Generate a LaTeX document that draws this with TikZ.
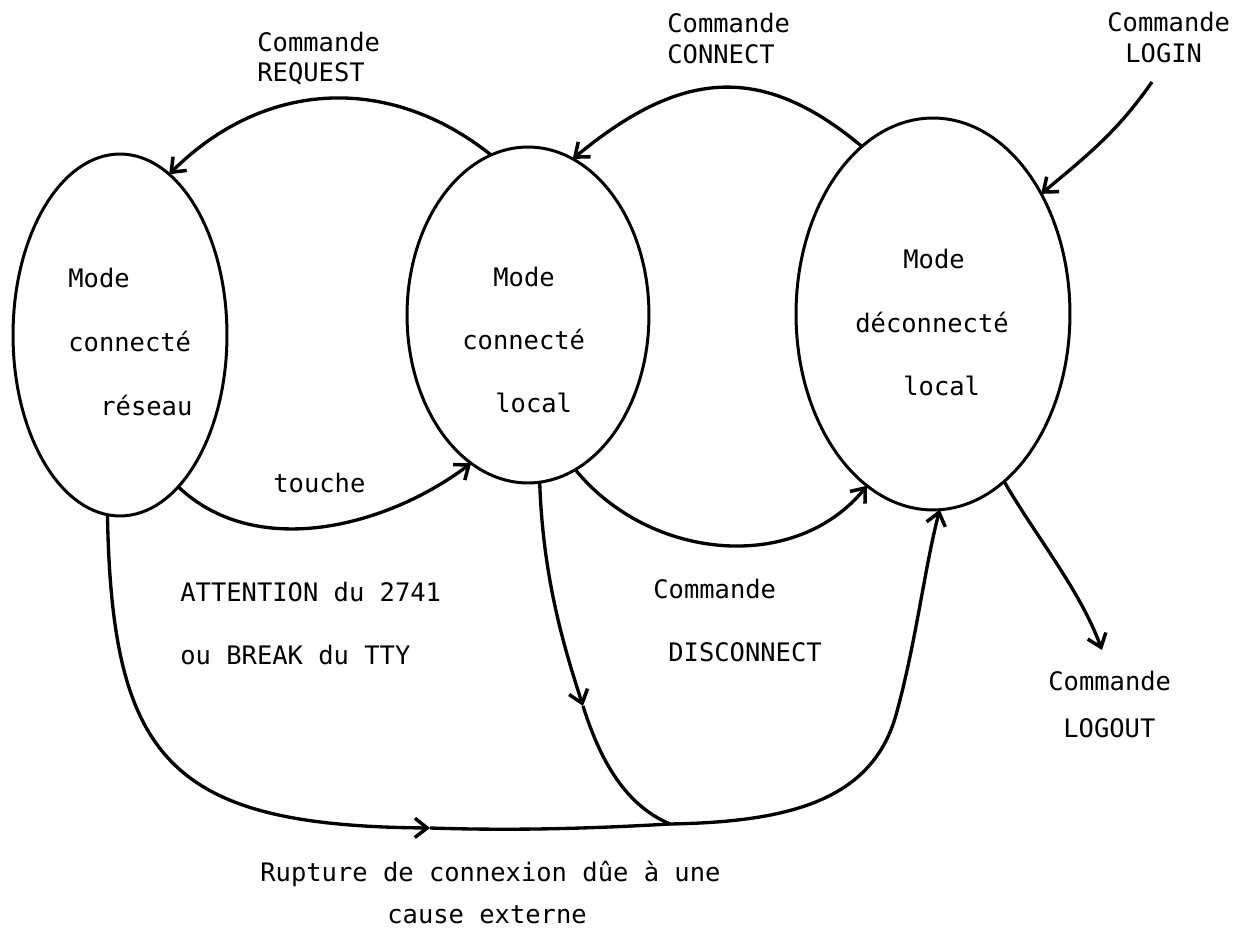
\documentclass[tikz,border=0pt]{standalone}
\usepackage{fontspec}
\setmonofont{DejaVu Sans Mono}
\usetikzlibrary{shapes.geometric,arrows.meta}
\begin{document}
\begin{tikzpicture}[x=0.02cm,y=-0.02cm,
  state/.style={draw, ellipse, line width=1.7pt, inner sep=0pt, outer sep=0pt},
  lbl/.style={anchor=base west, inner sep=0pt, font=\ttfamily\fontsize{14.5pt}{17pt}\selectfont},
  conn/.style={line width=1.9pt, -{Straight Barb[length=7pt,width=11pt,line width=2pt]}},
  plain/.style={line width=1.9pt},
]
\useasboundingbox (0,0) rectangle (1249,932);

% states
\node[state, minimum width=4.28cm, minimum height=7.24cm] (reseau) at (120,335) {};
\node[state, minimum width=4.84cm, minimum height=6.72cm] (local) at (528,315) {};
\node[state, minimum width=5.48cm, minimum height=7.84cm] (deco) at (933,314) {};

% texts inside states
\node[lbl] (r1) at (68,288) {Mode};
\node[lbl] (r2) at (68,352) {connecté};
\node[lbl] (r3) at (100,416) {réseau};
\node[lbl] (l1) at (493,287) {Mode};
\node[lbl] (l2) at (462,350) {connecté};
\node[lbl] (l3) at (495,413) {local};
\node[lbl] (d1) at (903,269) {Mode};
\node[lbl] (d2) at (855,333) {déconnecté};
\node[lbl] (d3) at (903,396) {local};

% other labels
\node[lbl] (q1) at (257,52) {Commande};
\node[lbl] (q2) at (257,82) {REQUEST};
\node[lbl] (c1) at (667,33) {Commande};
\node[lbl] (c2) at (667,64) {CONNECT};
\node[lbl] (g1) at (1107,32) {Commande};
\node[lbl] (g2) at (1125,63) {LOGIN};
\node[lbl] (t1) at (273,493) {touche};
\node[lbl] (a1) at (180,602) {ATTENTION du 2741};
\node[lbl] (a2) at (180,665) {ou BREAK du TTY};
\node[lbl] (s1) at (653,599) {Commande};
\node[lbl] (s2) at (668,662) {DISCONNECT};
\node[lbl] (o1) at (1048,691) {Commande};
\node[lbl] (o2) at (1063,738) {LOGOUT};
\node[lbl] (u1) at (260,882) {Rupture de connexion dûe à une};
\node[lbl] (u2) at (387,924) {cause externe};

% free ends and junctions
\coordinate (loginstart) at (1152,82);
\coordinate (logoutend) at (1102,650);
\coordinate (rmid) at (430,828);
\coordinate (dmid) at (583,706);
\coordinate (J) at (670,824);

% connectors
\draw[conn] (local.103) .. controls (391,75) and (266,78) .. (reseau.73);
\draw[conn] (deco.113) .. controls (760,61) and (679,71) .. (local.74);
\draw[conn] (loginstart) .. controls (1119,129) and (1093,151) .. (deco.48);
\draw[conn] (reseau.-69) .. controls (255,560) and (385,528) .. (local.-111);
\draw[conn] (local.-73) .. controls (650,561) and (795,574) .. (deco.-111);
\draw[conn] (deco.-67) .. controls (1035,535) and (1080,590) .. (logoutend);

\draw[conn] (reseau.-94) .. controls (112,760) and (170,826) .. (rmid);
\draw[plain] (rmid) .. controls (520,831) and (600,828) .. (J);
\draw[conn] (local.-86) .. controls (543,580) and (565,650) .. (dmid);
\draw[plain] (dmid) .. controls (600,760) and (625,805) .. (J);
\draw[conn] (J) .. controls (790,822) and (872,800) .. (896,715)
  .. controls (916,643) and (925,565) .. (deco.-88);
\end{tikzpicture}
\end{document}
